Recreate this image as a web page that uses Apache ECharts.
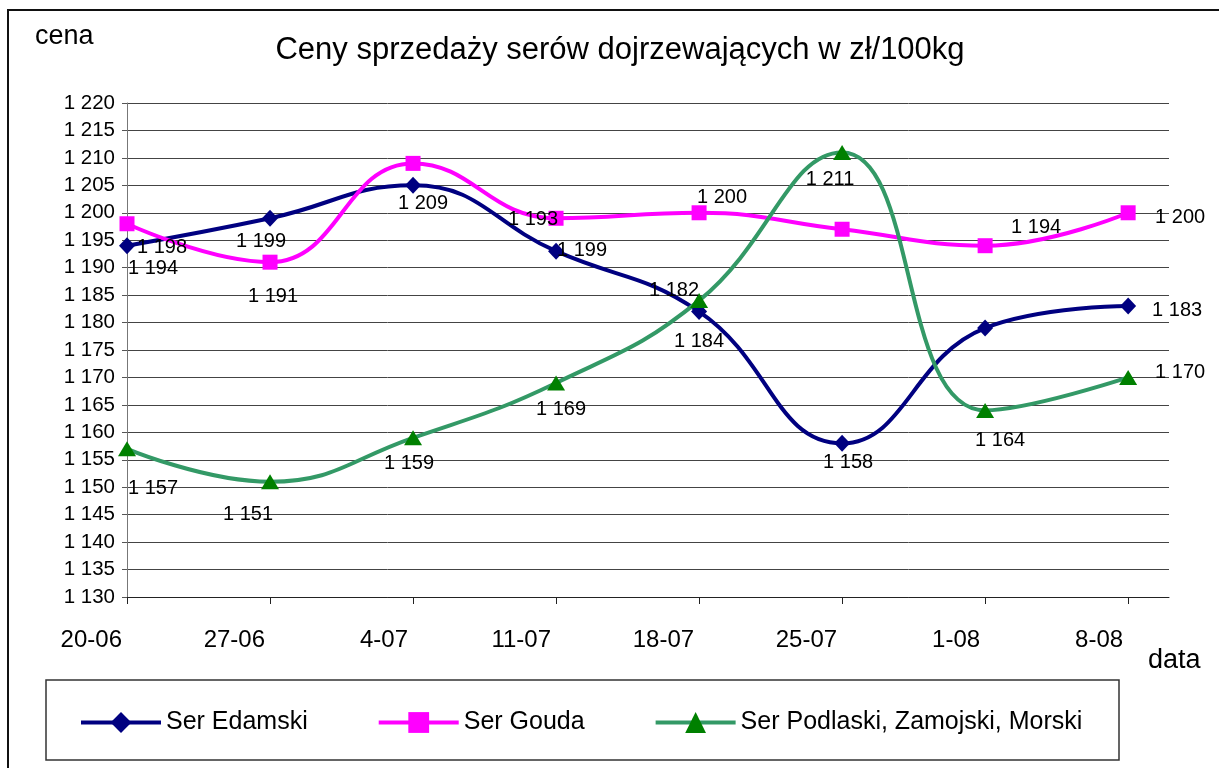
<!DOCTYPE html>
<html><head><meta charset="utf-8">
<script src="https://cdn.jsdelivr.net/npm/echarts@6/dist/echarts.min.js"></script>
<style>html,body{margin:0;padding:0;background:#fff}#c{width:1219px;height:768px}</style>
</head><body><div id="c"></div>
<script>
// ---- data ----
const dates = ['20-06','27-06','4-07','11-07','18-07','25-07','1-08','8-08'];
const dayOffsets = [0,7,14,21,28,35,42,49];
const axisEndDay = 51;
const seriesNames = ['Ser Edamski','Ser Gouda','Ser Podlaski, Zamojski, Morski'];
const edamski  = [1194,1199,1205,1193,1182,1158,1179,1183];
const gouda    = [1198,1191,1209,1199,1200,1197,1194,1200];
const podlaski = [1157,1151,1159,1169,1184,1211,1164,1170];
const yMin = 1130, yMax = 1220, yStep = 5;

// ---- label placement (style) ----
const edamskiLabelOffsets  = [[26,23],[-9,23],null,[-23,-32],[-25,-21],[6,19],null,[49,4]];
const goudaLabelOffsets    = [[35,24],[3,34],[10,40],[26,32],[23,-15],null,[51,-18],[52,5]];
const podlaskiLabelOffsets = [[26,40],[-22,33],[-4,26],[5,27],[0,41],[-12,27],[15,30],[52,-5]];

const FONT = 'Liberation Sans, Arial, sans-serif';
const fmt = v => String(Math.round(v)).replace(/\B(?=(\d{3})+(?!\d))/g, ' ');

function mkData(values, offsets) {
  return values.map((v, i) => ({
    value: [dayOffsets[i], v],
    label: offsets[i] ? { show: true, offset: offsets[i] } : { show: false }
  }));
}

const labelBase = {
  show: true, position: 'inside', color: '#000', fontSize: 20, fontFamily: FONT,
  formatter: p => fmt(p.value[1])
};
const SMOOTH = 0.45;

const chart = echarts.init(document.getElementById('c'), null, { renderer: 'canvas' });
chart.setOption({
  animation: false,
  backgroundColor: '#fff',
  textStyle: { fontFamily: FONT },
  grid: { left: 127, right: 50, top: 103, bottom: 171 },
  graphic: [
    { type: 'polyline', shape: { points: [[8, 780], [8, 10], [1230, 10]] },
      style: { stroke: '#111', lineWidth: 2, fill: null } },
    { type: 'rect', shape: { x: 46, y: 680, width: 1073, height: 80 },
      style: { stroke: '#333', lineWidth: 1.5, fill: null }, z: -1 },
    { type: 'text', x: 35, y: 37, style: { text: 'cena', font: '27px ' + FONT, fill: '#000', verticalAlign: 'middle', align: 'left' } },
    { type: 'text', x: 620, y: 50, style: { text: 'Ceny sprzedaży serów dojrzewających w zł/100kg', font: '31px ' + FONT, fill: '#000', verticalAlign: 'middle', align: 'center' } },
    { type: 'text', x: 1148, y: 661, style: { text: 'data', font: '27px ' + FONT, fill: '#000', verticalAlign: 'middle', align: 'left' } }
  ],
  legend: {
    data: seriesNames,
    left: 74, top: 705,
    itemWidth: 80, itemHeight: 26, itemGap: 69,
    lineStyle: { width: 4 },
    textStyle: { fontSize: 25, color: '#000', fontFamily: FONT }
  },
  xAxis: {
    type: 'value', min: 0, max: axisEndDay, interval: 7,
    axisLine: { show: true, onZero: false, lineStyle: { color: '#222', width: 1 } },
    axisTick: { show: true, customValues: dayOffsets, length: 7, lineStyle: { color: '#222' } },
    axisLabel: {
      customValues: dayOffsets, margin: 31, fontSize: 24, color: '#000', fontFamily: FONT,
      align: 'right', padding: [0, 5, 0, 0],
      formatter: v => dates[dayOffsets.indexOf(v)] || ''
    },
    splitLine: { show: false }
  },
  yAxis: {
    type: 'value', min: yMin, max: yMax, interval: yStep,
    axisLine: { show: true, lineStyle: { color: '#777', width: 1 } },
    axisTick: { show: true, length: 5, lineStyle: { color: '#555' } },
    axisLabel: { margin: 12, fontSize: 20.5, color: '#000', fontFamily: FONT, formatter: v => fmt(v) },
    splitLine: { show: true, lineStyle: { color: '#444', width: 1 } }
  },
  series: [
    { name: seriesNames[0], type: 'line', smooth: SMOOTH, data: mkData(edamski, edamskiLabelOffsets),
      symbol: 'diamond', symbolSize: [16, 17], lineStyle: { color: '#000080', width: 4 },
      itemStyle: { color: '#000080' }, label: labelBase },
    { name: seriesNames[1], type: 'line', smooth: SMOOTH, data: mkData(gouda, goudaLabelOffsets),
      symbol: 'rect', symbolSize: 15, lineStyle: { color: '#ff00ff', width: 4 },
      itemStyle: { color: '#ff00ff' }, label: labelBase },
    { name: seriesNames[2], type: 'line', smooth: SMOOTH, data: mkData(podlaski, podlaskiLabelOffsets),
      symbol: 'triangle', symbolSize: [18, 15], lineStyle: { color: '#339966', width: 4 },
      itemStyle: { color: '#008000' }, label: labelBase }
  ]
});
</script></body></html>
